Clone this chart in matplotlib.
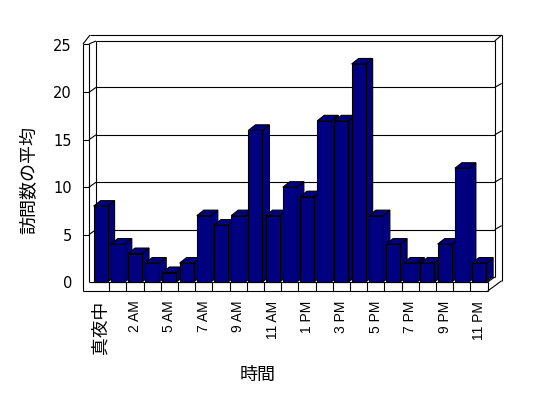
import matplotlib
matplotlib.use('Agg')
import matplotlib.pyplot as plt
from matplotlib.patches import Rectangle, Polygon

# hourly average visits (one hour missing in the source data)
hours = ['真夜中', '1 AM', '2 AM', '3 AM', '5 AM', '6 AM', '7 AM', '8 AM', '9 AM',
         '10 AM', '11 AM', '12 PM', '1 PM', '2 PM', '3 PM', '4 PM', '5 PM', '6 PM',
         '7 PM', '8 PM', '9 PM', '10 PM', '11 PM']
visits = [8, 4, 3, 2, 1, 2, 7, 6, 7, 16, 7, 10, 9, 17, 17, 23, 7, 4, 2, 2, 4, 12, 2]
y_ticks = [0, 5, 10, 15, 20, 25]

W, H = 548, 398
NAVY = '#000080'
JP = ['Noto Sans CJK JP', 'DejaVu Sans']

fig = plt.figure(figsize=(W / 100, H / 100), dpi=100)
# front plane of the pseudo-3D box, in pixels
left, right, top, bottom = 92, 487.7, 45, 282
ax = fig.add_axes([left / W, 1 - bottom / H, (right - left) / W, (bottom - top) / H])
n = len(hours)
ax.set_xlim(-0.5, n - 0.5)
ax.set_ylim(0, y_ticks[-1])
u = n / (right - left)             # categories per pixel
v = y_ticks[-1] / (bottom - top)   # value units per pixel


def P(px, py):
    # pixel offset from the front-left floor corner -> data coords
    return (-0.5 + px * u, py * v)


def seg(a, b, z=1):
    (x0, y0), (x1, y1) = P(*a), P(*b)
    ax.plot([x0, x1], [y0, y1], color='black', lw=0.8, clip_on=False,
            zorder=z, solid_capstyle='butt')


wx = right - left          # front width in px
ytop = bottom - top        # front height in px
dxp, dyp = 7, 5            # depth offset of walls in px

# back wall
seg((4, dyp), (4, ytop + dyp - 1))
seg((4, ytop + dyp - 1), (wx + dxp, ytop + dyp - 1))
seg((wx + dxp, dyp), (wx + dxp, ytop + dyp - 1))
seg((4, dyp), (wx + dxp, dyp))
for g in y_ticks[1:-1]:
    gy = g / v
    seg((4, gy + dyp), (wx + dxp, gy + dyp))
    seg((-3, gy), (4, gy + dyp))
    seg((-9, gy), (-3, gy))
    seg((wx + dxp, gy + dyp), (wx + 2 * dxp, gy + 2 * dyp - 1))

# left wall slab
seg((-9, -9), (-9, ytop + 1))
seg((-3, 0), (-3, ytop + 1))
seg((-9, ytop + 1), (-3, ytop + 1))
seg((-9, ytop + 1), (-2, ytop + 10))
seg((-3, ytop + 1), (4, ytop + dyp - 1))
# top edge and right wall
seg((-2, ytop + 10), (wx + 2 * dxp, ytop + 10))
seg((wx + dxp, ytop + dyp - 1), (wx + 2 * dxp, ytop + 10))
seg((wx + 2 * dxp, 1.3), (wx + 2 * dxp, ytop + 10))

# floor slab
seg((-3, 0), (wx, 0), z=5)
seg((-9, -9), (wx, -9), z=5)
seg((wx, 0), (wx, -9), z=5)
seg((wx, 0), (wx + dxp, dyp), z=5)
seg((wx, -9), (wx + 2 * dxp, 1.3), z=5)
for i in range(1, n):
    x = i / u
    seg((x, 0), (x, -9), z=5)

# bars
bw = 14 * u
dx, dy = 7 * u, 5.5 * v
for i, val in enumerate(visits):
    xl, xr = i - bw / 2, i + bw / 2
    z = 2 + i * 0.01
    kw = dict(fc=NAVY, ec='black', lw=0.8, zorder=z, clip_on=False, joinstyle='miter')
    ax.add_patch(Polygon([(xr, 0), (xr + dx, dy), (xr + dx, val + dy), (xr, val)], **kw))
    ax.add_patch(Polygon([(xl, val), (xr, val), (xr + dx, val + dy), (xl + dx, val + dy)], **kw))
    ax.add_patch(Rectangle((xl, 0), bw, val, **kw))

# ticks
ax.set_xticks(range(0, n, 2))
ax.set_xticklabels(hours[::2], rotation=90, fontsize=10,
                   fontfamily=['Liberation Sans Narrow', 'Liberation Sans'])
ax.get_xticklabels()[0].set_fontfamily(JP)
ax.get_xticklabels()[0].set_fontsize(12.75)
ax.tick_params(axis='x', length=0, pad=13.5)
ax.set_yticks(y_ticks)
ax.set_yticklabels([str(t) for t in y_ticks], fontsize=10.5, fontfamily='DejaVu Sans')
ax.tick_params(axis='y', length=0, pad=14.4)
for s in ax.spines.values():
    s.set_visible(False)
ax.patch.set_visible(False)

fig.text(29 / W, 1 - 180 / H, '訪問数の平均', rotation=90, ha='center', va='center',
         fontsize=13, family=JP)
fig.text(258 / W, 1 - 374.5 / H, '時間', ha='center', va='center', fontsize=13, family=JP)

fig.savefig('out.png', dpi=100)
